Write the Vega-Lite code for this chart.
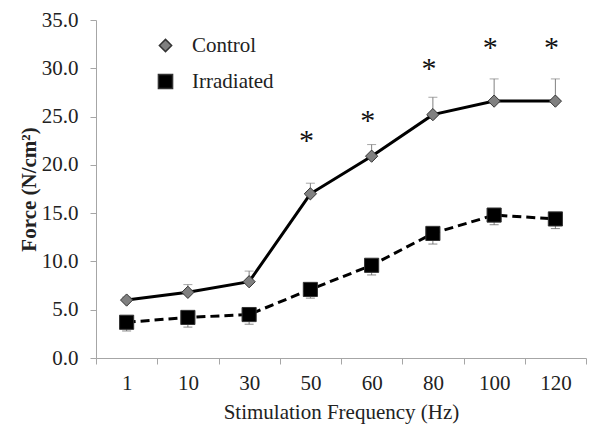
{
  "$schema": "https://vega.github.io/schema/vega-lite/v6.json",
  "width": 490,
  "height": 338,
  "autosize": {"type": "none"},
  "padding": {"left": 96, "top": 20, "right": 14, "bottom": 79},
  "background": "white",
  "config": {
    "font": "Liberation Serif, Times New Roman, DejaVu Serif, serif",
    "view": {"stroke": null},
    "axis": {"labelFont": "Liberation Serif, Times New Roman, DejaVu Serif, serif", "titleFont": "Liberation Serif, Times New Roman, DejaVu Serif, serif", "labelColor": "#222", "titleColor": "#222", "domainColor": "#a6a6a6", "tickColor": "#a6a6a6", "grid": false, "labelFontSize": 21, "titleFontSize": 21},
    "legend": {"labelFont": "Liberation Serif, Times New Roman, DejaVu Serif, serif"}
  },
  "datasets": {
    "force": [
      {"freq": 1, "group": "Control", "mean": 6.0, "lower": 6.0, "upper": 6.3},
      {"freq": 10, "group": "Control", "mean": 6.8, "lower": 6.8, "upper": 7.6},
      {"freq": 30, "group": "Control", "mean": 7.9, "lower": 7.9, "upper": 9.0},
      {"freq": 50, "group": "Control", "mean": 17.0, "lower": 17.0, "upper": 18.1},
      {"freq": 60, "group": "Control", "mean": 20.9, "lower": 20.9, "upper": 22.1},
      {"freq": 80, "group": "Control", "mean": 25.2, "lower": 25.2, "upper": 27.0},
      {"freq": 100, "group": "Control", "mean": 26.6, "lower": 26.6, "upper": 28.9},
      {"freq": 120, "group": "Control", "mean": 26.6, "lower": 26.6, "upper": 28.9},
      {"freq": 1, "group": "Irradiated", "mean": 3.7, "lower": 2.8, "upper": 3.7},
      {"freq": 10, "group": "Irradiated", "mean": 4.2, "lower": 3.2, "upper": 4.2},
      {"freq": 30, "group": "Irradiated", "mean": 4.5, "lower": 3.5, "upper": 4.5},
      {"freq": 50, "group": "Irradiated", "mean": 7.1, "lower": 6.2, "upper": 7.1},
      {"freq": 60, "group": "Irradiated", "mean": 9.6, "lower": 8.6, "upper": 9.6},
      {"freq": 80, "group": "Irradiated", "mean": 12.9, "lower": 11.8, "upper": 12.9},
      {"freq": 100, "group": "Irradiated", "mean": 14.8, "lower": 13.8, "upper": 14.8},
      {"freq": 120, "group": "Irradiated", "mean": 14.4, "lower": 13.4, "upper": 14.4}
    ],
    "sig": [
      {"freq": 50, "star": 22.5, "label": "*"},
      {"freq": 60, "star": 24.5, "label": "*"},
      {"freq": 80, "star": 29.9, "label": "*"},
      {"freq": 100, "star": 32.1, "label": "*"},
      {"freq": 120, "star": 32.1, "label": "*"}
    ]
  },
  "encoding": {
    "x": {
      "field": "freq",
      "type": "ordinal",
      "scale": {"type": "band", "paddingInner": 0, "paddingOuter": 0, "domain": [1, 10, 30, 50, 60, 80, 100, 120]},
      "axis": {"title": "Stimulation Frequency (Hz)", "labelAngle": 0, "tickBand": "extent", "tickSize": 6, "labelPadding": 8, "titlePadding": 8, "titleFontWeight": "normal"}
    }
  },
  "layer": [
    {
      "data": {"name": "force"},
      "mark": {"type": "rule", "color": "#808080", "strokeWidth": 1},
      "encoding": {
        "y": {"field": "lower", "type": "quantitative", "scale": {"domain": [0, 35], "nice": false}, "axis": {"title": "Force (N/cm²)", "values": [0, 5, 10, 15, 20, 25, 30, 35], "format": ".1f", "tickSize": 6, "labelPadding": 12, "titlePadding": 2, "titleFontWeight": "bold"}},
        "y2": {"field": "upper"}
      }
    },
    {
      "data": {"name": "force"},
      "transform": [{"filter": "datum.group === 'Control'"}],
      "mark": {"type": "tick", "color": "#808080", "thickness": 1, "size": 9},
      "encoding": {"y": {"field": "upper", "type": "quantitative"}}
    },
    {
      "data": {"name": "force"},
      "transform": [{"filter": "datum.group === 'Irradiated'"}],
      "mark": {"type": "tick", "color": "#555555", "thickness": 1, "size": 9},
      "encoding": {"y": {"field": "lower", "type": "quantitative"}}
    },
    {
      "data": {"name": "force"},
      "transform": [{"filter": "datum.group === 'Control'"}],
      "mark": {"type": "line", "color": "black", "strokeWidth": 3},
      "encoding": {"y": {"field": "mean", "type": "quantitative"}}
    },
    {
      "data": {"name": "force"},
      "transform": [{"filter": "datum.group === 'Irradiated'"}],
      "mark": {"type": "line", "color": "black", "strokeWidth": 3, "strokeDash": [9, 5]},
      "encoding": {"y": {"field": "mean", "type": "quantitative"}}
    },
    {
      "data": {"name": "force"},
      "mark": {"type": "point", "filled": true, "stroke": "#333333", "strokeWidth": 1, "opacity": 1},
      "encoding": {
        "y": {"field": "mean", "type": "quantitative"},
        "shape": {
          "field": "group", "type": "nominal",
          "scale": {"domain": ["Control", "Irradiated"], "range": ["diamond", "square"]},
          "legend": {"title": null, "orient": "none", "legendX": 59, "legendY": 15, "padding": 0, "symbolSize": 256, "labelFontSize": 21, "labelColor": "#222", "labelOffset": 16, "rowPadding": 14}
        },
        "fill": {
          "field": "group", "type": "nominal",
          "scale": {"domain": ["Control", "Irradiated"], "range": ["#808080", "#000000"]},
          "legend": {"title": null, "orient": "none", "legendX": 59, "legendY": 15, "padding": 0, "symbolSize": 256, "labelFontSize": 21, "labelColor": "#222", "labelOffset": 16, "rowPadding": 14}
        },
        "size": {
          "field": "group", "type": "nominal",
          "scale": {"domain": ["Control", "Irradiated"], "range": [150, 200]},
          "legend": {"title": null, "orient": "none", "legendX": 59, "legendY": 15, "padding": 0, "symbolSize": 256, "labelFontSize": 21, "labelColor": "#222", "labelOffset": 16, "rowPadding": 14}
        }
      }
    },
    {
      "data": {"name": "sig"},
      "mark": {"type": "text", "fontSize": 30, "color": "#111", "dx": -4, "baseline": "middle"},
      "encoding": {
        "y": {"field": "star", "type": "quantitative"},
        "text": {"field": "label"}
      }
    }
  ]
}
